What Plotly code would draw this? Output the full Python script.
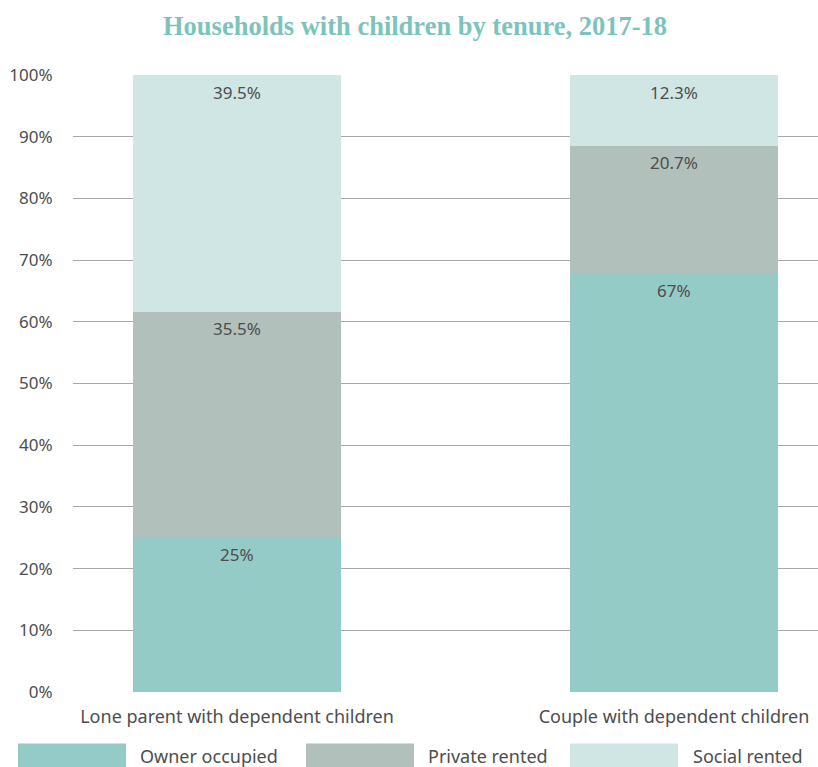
import plotly.graph_objects as go

categories = ["Lone parent with dependent children", "Couple with dependent children"]
series_names = ["Owner occupied", "Private rented", "Social rented"]
owner = [25.0, 67.8]
private = [36.6, 20.7]
social = [38.4, 11.5]
owner_labels = ["25%", "67%"]
private_labels = ["35.5%", "20.7%"]
social_labels = ["39.5%", "12.3%"]
y_ticks = [0, 10, 20, 30, 40, 50, 60, 70, 80, 90, 100]
title_text = "Households with children by tenure, 2017-18"

colors = ["#95cbc6", "#b2c0bc", "#d0e6e4"]
text_color = "#4d4d4d"
FONT = "Noto Sans"

W, H = 818, 767
ML, MR, MT, MB = 73, 0, 75, 74.5
pw = W - ML - MR
ph = H - MT - MB

xs = list(range(len(categories)))
unit = 437.0
x0 = -164.0 / unit
x1 = (pw - 164.0) / unit
bar_w = 208.0 / unit


def px_x(p):
    return (p - ML) / pw


def px_y(p):
    return (H - MB - p) / ph


fig = go.Figure()
all_vals = [owner, private, social]
all_labels = [owner_labels, private_labels, social_labels]
for name, vals, col in zip(series_names, all_vals, colors):
    fig.add_trace(go.Bar(x=xs, y=vals, name=name, marker=dict(color=col, line=dict(width=0)),
                         width=bar_w, showlegend=False, hoverinfo="skip"))

annotations = []
for i in range(len(categories)):
    cum = 0
    for vals, labs in zip(all_vals, all_labels):
        cum += vals[i]
        annotations.append(dict(x=xs[i], y=cum, xref="x", yref="y", text=labs[i],
                                showarrow=False, yanchor="middle", yshift=-17,
                                font=dict(family=FONT, size=17, color=text_color)))

annotations.append(dict(x=px_x(415), y=px_y(26), xref="paper", yref="paper",
                        text="<b>" + title_text + "</b>",
                        showarrow=False, xanchor="center", yanchor="middle",
                        font=dict(family="Liberation Serif", size=26.5, color="#7cc4bb")))

shapes = []
legend_pos = [(18, 126, 138), (306, 414, 426), (570, 678, 691)]
for (a, b, t), name, col in zip(legend_pos, series_names, colors):
    shapes.append(dict(type="rect", xref="paper", yref="paper", x0=px_x(a), x1=px_x(b),
                       y0=px_y(744), y1=px_y(775), fillcolor=col, line=dict(width=0), layer="above"))
    annotations.append(dict(x=px_x(t), y=px_y(757), xref="paper", yref="paper", text=name,
                            showarrow=False, xanchor="left", yanchor="middle",
                            font=dict(family=FONT, size=18, color=text_color)))

fig.update_layout(
    width=W, height=H,
    margin=dict(l=ML, r=MR, t=MT, b=MB, pad=0),
    barmode="stack",
    plot_bgcolor="white", paper_bgcolor="white",
    showlegend=False,
    annotations=annotations,
    shapes=shapes,
    xaxis=dict(range=[x0, x1], tickvals=xs, ticktext=categories, showgrid=False,
               zeroline=False, showline=False, ticks="outside", ticklen=8,
               tickcolor="rgba(0,0,0,0)",
               tickfont=dict(family=FONT, size=18, color=text_color), fixedrange=True),
    yaxis=dict(range=[0, 100], tickvals=y_ticks, ticktext=[f"{v}%" for v in y_ticks],
               showgrid=True, gridcolor="#a8a8a8", gridwidth=1, zeroline=False, showline=False,
               ticks="outside", ticklen=16, tickcolor="rgba(0,0,0,0)",
               tickfont=dict(family=FONT, size=17, color=text_color), fixedrange=True),
)

fig.write_html("out.html")
